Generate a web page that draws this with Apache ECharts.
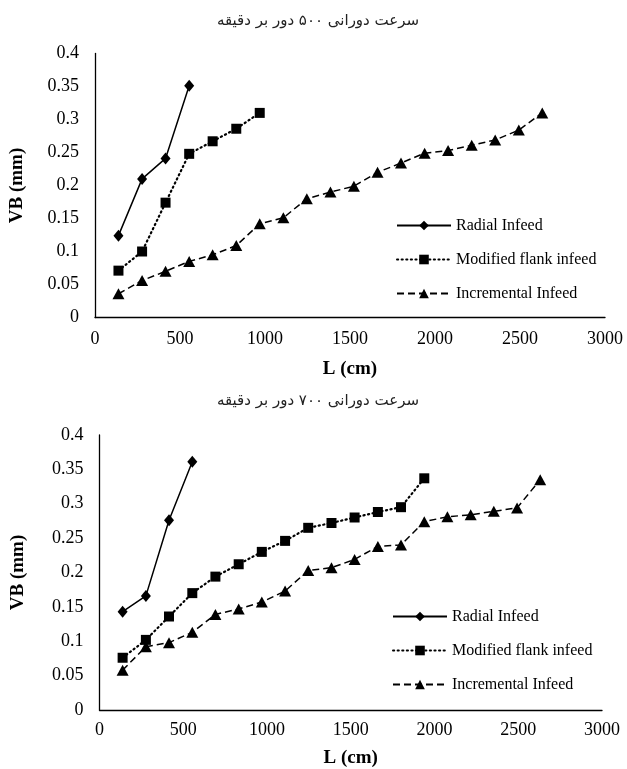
<!DOCTYPE html>
<html>
<head>
<meta charset="utf-8">
<script src="https://cdn.jsdelivr.net/npm/echarts@6/dist/echarts.min.js"></script>
<style>
html,body{margin:0;padding:0;background:#fff;}
#chart{width:627px;height:769px;}
</style>
</head>
<body>
<div id="chart"></div>
<script>
// ---- data ----
const titleTop = 'سرعت دورانی ۵۰۰ دور بر دقیقه';
const titleBottom = 'سرعت دورانی ۷۰۰ دور بر دقیقه';
const seriesNames = ['Radial Infeed', 'Modified flank infeed', 'Incremental Infeed'];
const xName = 'L (cm)';
const yName = 'VB (mm)';

// cutting length (cm) at each measurement
const L = [138, 277, 415, 554, 692, 831, 969, 1108, 1246, 1385, 1523, 1662, 1800, 1939, 2077, 2216, 2354, 2493, 2631];

// 500 rpm
const radial500 = [0.124, 0.210, 0.241, 0.351];
const modified500 = [0.071, 0.100, 0.174, 0.248, 0.267, 0.286, 0.310];
const incremental500 = [0.036, 0.056, 0.070, 0.085, 0.095, 0.109, 0.142, 0.151, 0.180, 0.190, 0.199, 0.220, 0.234, 0.249, 0.253, 0.261, 0.269, 0.284, 0.310];

// 700 rpm
const radial700 = [0.143, 0.166, 0.276, 0.361];
const modified700 = [0.076, 0.102, 0.136, 0.170, 0.194, 0.212, 0.230, 0.246, 0.265, 0.272, 0.280, 0.288, 0.295, 0.337];
const incremental700 = [0.058, 0.092, 0.098, 0.113, 0.139, 0.147, 0.157, 0.173, 0.203, 0.207, 0.219, 0.238, 0.240, 0.274, 0.281, 0.284, 0.289, 0.294, 0.335];

// ---- chart ----
const pair = (ys) => ys.map((v, i) => [L[i], v]);
const serif = '"Liberation Serif", "Times New Roman", serif';
const styles = [
  {symbol: 'diamond', symbolSize: [10, 12], line: {type: 'solid', width: 1.5}},
  {symbol: 'rect', symbolSize: [10, 10], line: {type: [1.2, 3.4], width: 2.2, cap: 'round'}},
  {symbol: 'triangle', symbolSize: [12, 11], line: {type: [7, 4], width: 1.5}}
];

function makeSeries(name, data, k, idx) {
  const s = styles[k];
  return {
    name: name, type: 'line', xAxisIndex: idx, yAxisIndex: idx,
    data: data, symbol: s.symbol, symbolSize: s.symbolSize,
    showAllSymbol: true, animation: false,
    lineStyle: {color: '#000', width: s.line.width, type: s.line.type, cap: s.line.cap || 'butt'},
    itemStyle: {color: '#000', borderWidth: 0}
  };
}

const axisCommon = {
  axisLine: {show: true, lineStyle: {color: '#000', width: 1.3}},
  axisTick: {show: false},
  splitLine: {show: false},
  axisLabel: {color: '#000', fontFamily: serif, fontSize: 18}
};
const nameStyle = {color: '#000', fontFamily: serif, fontSize: 19, fontWeight: 'bold'};

function xAx(idx, gap, margin) {
  return Object.assign({}, axisCommon, {
    gridIndex: idx, type: 'value', min: 0, max: 3000, interval: 500,
    name: xName, nameLocation: 'middle', nameGap: gap, nameTextStyle: nameStyle,
    axisLabel: Object.assign({}, axisCommon.axisLabel, {margin: margin, formatter: (v) => String(v)})
  });
}
function yAx(idx, gap) {
  return Object.assign({}, axisCommon, {
    gridIndex: idx, type: 'value', min: 0, max: 0.4, interval: 0.05,
    name: yName, nameLocation: 'middle', nameGap: gap, nameTextStyle: nameStyle,
    axisLabel: Object.assign({}, axisCommon.axisLabel, {margin: 16, formatter: (v) => String(+v.toFixed(2))})
  });
}

const legendCommon = {
  orient: 'vertical', itemWidth: 54, itemHeight: 12, itemGap: 17,
  textStyle: {color: '#000', fontFamily: serif, fontSize: 16, lineHeight: 17}
};

const titleStyle = {fontFamily: '"DejaVu Sans", sans-serif', fontSize: 15, fontWeight: 'normal', color: '#222'};

const option = {
  backgroundColor: '#fff',
  animation: false,
  title: [
    {text: titleTop, left: 313, top: 9, textAlign: 'center', textStyle: titleStyle},
    {text: titleBottom, left: 313, top: 389, textAlign: 'center', textStyle: titleStyle}
  ],
  legend: [
    Object.assign({}, legendCommon, {left: 391, top: 212, data: seriesNames.map(n => n), selectedMode: false}),
    Object.assign({}, legendCommon, {left: 387, top: 603, data: seriesNames.map(n => n + ' '), selectedMode: false,
      formatter: (n) => n.trim()})
  ],
  grid: [
    {left: 94.5, top: 53.5, width: 510.5, height: 264},
    {left: 99.5, top: 435, width: 502.5, height: 276.7}
  ],
  xAxis: [xAx(0, 42, 13), xAx(1, 39, 11)],
  yAxis: [yAx(0, 68), yAx(1, 72)],
  series: [
    makeSeries(seriesNames[0], pair(radial500), 0, 0),
    makeSeries(seriesNames[1], pair(modified500), 1, 0),
    makeSeries(seriesNames[2], pair(incremental500), 2, 0),
    makeSeries(seriesNames[0] + ' ', pair(radial700), 0, 1),
    makeSeries(seriesNames[1] + ' ', pair(modified700), 1, 1),
    makeSeries(seriesNames[2] + ' ', pair(incremental700), 2, 1)
  ]
};

const chart = echarts.init(document.getElementById('chart'), null, {renderer: 'canvas'});
chart.setOption(option);
</script>
</body>
</html>
